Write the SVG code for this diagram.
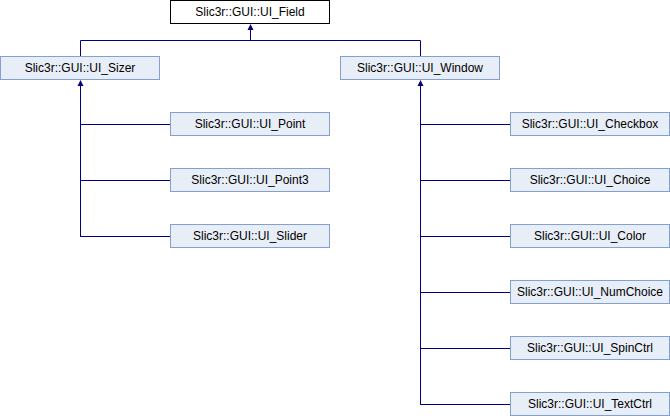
<svg xmlns="http://www.w3.org/2000/svg" width="670" height="416" viewBox="0 0 670 416">
<style>
.n rect{fill:#E8EEF7;stroke:#84A0D0;stroke-width:1}
.n.top rect{fill:#FFFFFF;stroke:#000000}
.n text{font-family:"Liberation Sans",Arial,sans-serif;font-size:12px;fill:#000000;text-anchor:middle}
.c line,.c polyline{stroke:#000080;stroke-width:1;fill:none}
.c polygon{fill:#000080;stroke:none}
</style>
<rect x="0" y="0" width="670" height="416" fill="#FFFFFF"/>
<g class="c" id="connectors">
<line x1="250.5" y1="29" x2="250.5" y2="40.5"/>
<polygon points="250.5,24 247.5,30 253.5,30"/>
<polyline points="80.5,56 80.5,40.5 420.5,40.5 420.5,56"/>
<line x1="80.5" y1="85" x2="80.5" y2="236.5"/>
<polygon points="80.5,80 77.5,86 83.5,86"/>
<line x1="80.5" y1="124.5" x2="170" y2="124.5"/>
<line x1="80.5" y1="180.5" x2="170" y2="180.5"/>
<line x1="80" y1="236.5" x2="170" y2="236.5"/>
<line x1="420.5" y1="85" x2="420.5" y2="404.5"/>
<polygon points="420.5,80 417.5,86 423.5,86"/>
<line x1="420.5" y1="124.5" x2="510" y2="124.5"/>
<line x1="420.5" y1="180.5" x2="510" y2="180.5"/>
<line x1="420.5" y1="236.5" x2="510" y2="236.5"/>
<line x1="420.5" y1="292.5" x2="510" y2="292.5"/>
<line x1="420.5" y1="348.5" x2="510" y2="348.5"/>
<line x1="420" y1="404.5" x2="510" y2="404.5"/>
</g>
<g class="n top" id="UI_Field"><rect x="170.5" y="0.5" width="159" height="23"/><text x="250" y="16">Slic3r::GUI::UI_Field</text></g>
<g class="n" id="UI_Sizer"><rect x="0.5" y="56.5" width="159" height="23"/><text x="80" y="72">Slic3r::GUI::UI_Sizer</text></g>
<g class="n" id="UI_Window"><rect x="340.5" y="56.5" width="159" height="23"/><text x="420" y="72">Slic3r::GUI::UI_Window</text></g>
<g class="n" id="UI_Point"><rect x="170.5" y="112.5" width="159" height="23"/><text x="250" y="128">Slic3r::GUI::UI_Point</text></g>
<g class="n" id="UI_Point3"><rect x="170.5" y="168.5" width="159" height="23"/><text x="250" y="184">Slic3r::GUI::UI_Point3</text></g>
<g class="n" id="UI_Slider"><rect x="170.5" y="224.5" width="159" height="23"/><text x="250" y="240">Slic3r::GUI::UI_Slider</text></g>
<g class="n" id="UI_Checkbox"><rect x="510.5" y="112.5" width="159" height="23"/><text x="590" y="128">Slic3r::GUI::UI_Checkbox</text></g>
<g class="n" id="UI_Choice"><rect x="510.5" y="168.5" width="159" height="23"/><text x="590" y="184">Slic3r::GUI::UI_Choice</text></g>
<g class="n" id="UI_Color"><rect x="510.5" y="224.5" width="159" height="23"/><text x="590" y="240">Slic3r::GUI::UI_Color</text></g>
<g class="n" id="UI_NumChoice"><rect x="510.5" y="280.5" width="159" height="23"/><text x="590" y="296">Slic3r::GUI::UI_NumChoice</text></g>
<g class="n" id="UI_SpinCtrl"><rect x="510.5" y="336.5" width="159" height="23"/><text x="590" y="352">Slic3r::GUI::UI_SpinCtrl</text></g>
<g class="n" id="UI_TextCtrl"><rect x="510.5" y="392.5" width="159" height="23"/><text x="590" y="408">Slic3r::GUI::UI_TextCtrl</text></g>
</svg>
